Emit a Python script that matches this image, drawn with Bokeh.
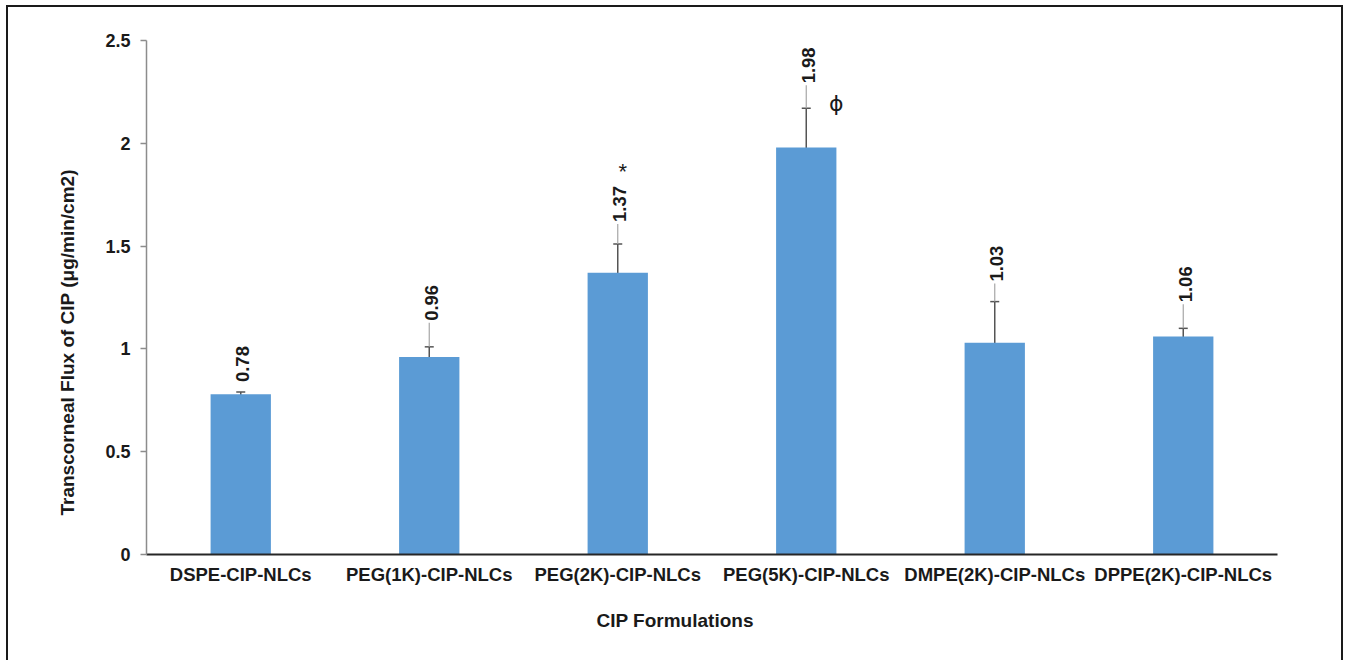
import math
from bokeh.plotting import figure
from bokeh.models import (ColumnDataSource, Whisker, TeeHead, FixedTicker,
                          NumeralTickFormatter, Title, FactorRange)
from bokeh.core.properties import value
from bokeh.embed import file_html
from bokeh.resources import INLINE

# ---- data ----
categories = ["DSPE-CIP-NLCs", "PEG(1K)-CIP-NLCs", "PEG(2K)-CIP-NLCs",
              "PEG(5K)-CIP-NLCs", "DMPE(2K)-CIP-NLCs", "DPPE(2K)-CIP-NLCs"]
flux = [0.78, 0.96, 1.37, 1.98, 1.03, 1.06]
sd = [0.01, 0.05, 0.14, 0.19, 0.20, 0.04]
y_ticks = [0, 0.5, 1, 1.5, 2, 2.5]
sig_categories = ["PEG(2K)-CIP-NLCs", "PEG(5K)-CIP-NLCs"]
sig_marks = ["*", "\u03d5"]

# ---- layout constants (pixels) ----
label_gap_px = [10, 26, 22, 25, 20, 26]
has_leader = [False, True, True, True, True, True]
PX = 1 / 205.6  # data units per pixel on y

FONT = "Liberation Sans"
BLUE = "#5B9BD5"
INK = "#1a1a1a"

upper = [f + s for f, s in zip(flux, sd)]
lower = [f - s for f, s in zip(flux, sd)]
src = ColumnDataSource(dict(x=categories, top=flux, upper=upper, lower=lower))

p = figure(x_range=FactorRange(factors=categories, range_padding=0),
           y_range=(0, 2.5), width=1337, height=655,
           output_backend="svg", toolbar_location=None,
           min_border_left=138, min_border_right=68,
           min_border_top=33, min_border_bottom=108)
p.styles = {"margin": "5px 0px 0px 6px",
            "border-top": "2px solid #1a1a1a",
            "border-left": "2px solid #1a1a1a",
            "border-right": "2px solid #1a1a1a"}
p.outline_line_color = None
p.grid.visible = False
p.background_fill_color = "white"
p.border_fill_color = "white"

p.vbar(x="x", top="top", width=0.32, source=src, fill_color=BLUE,
       line_color=None)

w = Whisker(base="x", upper="upper", lower="lower", source=src,
            dimension="height", line_color="#555555", line_width=1.5,
            upper_head=TeeHead(size=9, line_color="#555555", line_width=1.5),
            lower_head=TeeHead(size=9, line_color="#555555", line_width=1.5))
p.add_layout(w)

# leader lines
lx, ly0, ly1 = [], [], []
for c, u, g, h in zip(categories, upper, label_gap_px, has_leader):
    if h:
        lx.append(c)
        ly0.append(u)
        ly1.append(u + (g - 2) * PX)
p.segment(x0=lx, y0=ly0, x1=lx, y1=ly1, line_color="#A6A6A6", line_width=1.2)

# value labels
lab_y = [u + g * PX for u, g in zip(upper, label_gap_px)]
lab_src = ColumnDataSource(dict(x=categories, y=lab_y,
                                t=[f"{v:.2f}" for v in flux]))
p.text(x="x", y="y", text="t", source=lab_src, angle=math.pi / 2,
       text_align="left", text_baseline="middle", x_offset=2,
       text_font=value(FONT), text_font_style="bold",
       text_font_size="18.5px", text_color=INK)

# significance markers
sig_idx = [categories.index(c) for c in sig_categories]
p.text(x=[sig_categories[0]], y=[upper[sig_idx[0]]], text=[sig_marks[0]],
       x_offset=5, y_offset=-73, text_align="center", text_baseline="middle",
       text_font=value(FONT), text_font_size="22px", text_color=INK)
p.text(x=[sig_categories[1]], y=[upper[sig_idx[1]]], text=[sig_marks[1]],
       x_offset=30, y_offset=-5, text_align="center", text_baseline="middle",
       text_font=value("DejaVu Sans"), text_font_size="22px", text_color=INK)

# axes
p.yaxis.ticker = FixedTicker(ticks=y_ticks)
p.yaxis.formatter = NumeralTickFormatter(format="0.[0]")
p.yaxis.axis_line_color = "#8c8c8c"
p.yaxis.axis_line_width = 1.5
p.yaxis.major_tick_line_color = "#8c8c8c"
p.yaxis.major_tick_line_width = 1.5
p.yaxis.major_tick_out = 6
p.yaxis.major_tick_in = 0
p.yaxis.minor_tick_line_color = None
p.yaxis.major_label_standoff = 10
p.yaxis.major_label_text_font = FONT
p.yaxis.major_label_text_font_style = "bold"
p.yaxis.major_label_text_font_size = "18px"
p.yaxis.major_label_text_color = INK

p.xaxis.axis_line_color = "#262626"
p.xaxis.axis_line_width = 2
p.xaxis.major_tick_line_color = None
p.xaxis.minor_tick_line_color = None
p.xaxis.major_label_standoff = 3
p.xaxis.major_label_text_font = FONT
p.xaxis.major_label_text_font_style = "bold"
p.xaxis.major_label_text_font_size = "18.5px"
p.xaxis.major_label_text_color = INK

# axis titles, offset from the frame centre as in the reference
p.add_layout(Title(text="Transcorneal Flux of CIP  (\u03bcg/min/cm2)",
                   align="left", offset=39, standoff=49,
                   text_font=FONT, text_font_style="bold",
                   text_font_size="19px", text_color=INK), "left")
p.add_layout(Title(text="CIP Formulations", align="left", offset=450,
                   standoff=41, text_font=FONT, text_font_style="bold",
                   text_font_size="19px", text_color=INK), "below")

open("out.html", "w").write(file_html(p, INLINE))
